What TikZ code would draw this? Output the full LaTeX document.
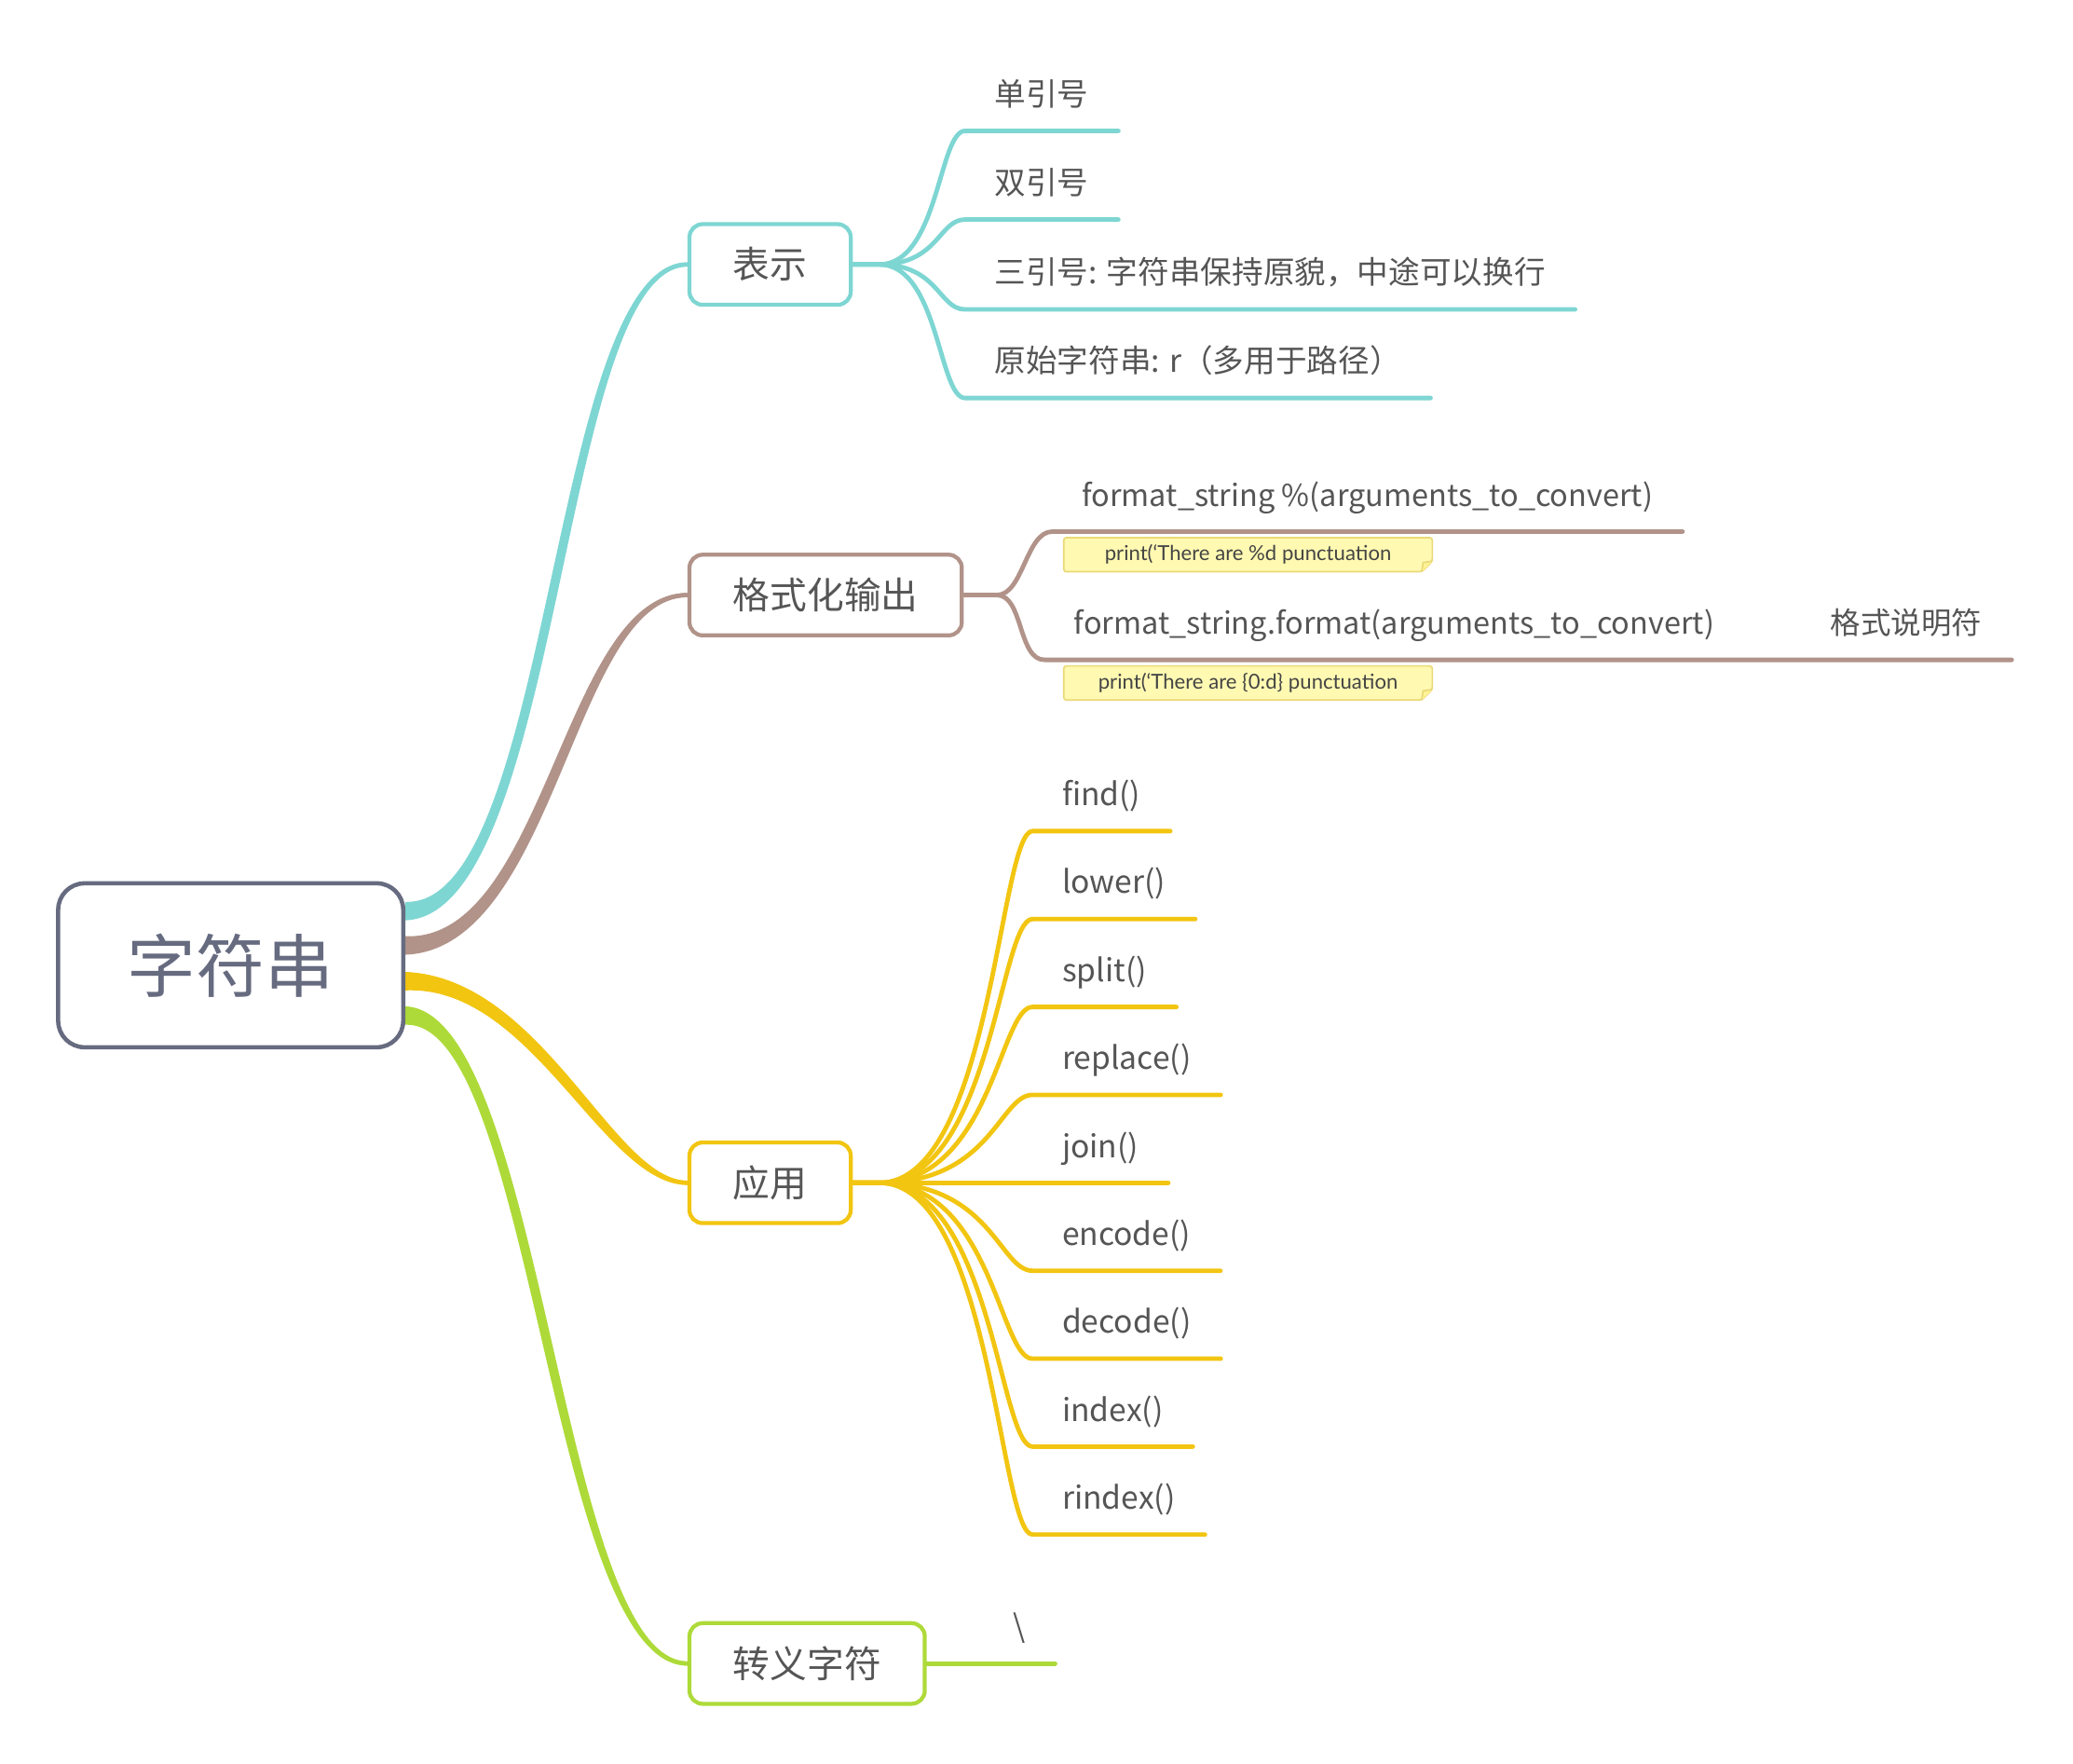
\documentclass[tikz,border=0pt]{standalone}
\usepackage{fontspec}
\setmainfont{Noto Sans CJK SC}
\newfontfamily\memofont{Lato}
\usetikzlibrary{calc}
\pgfdeclarelayer{bg}
\pgfsetlayers{bg,main}
\definecolor{rootc}{RGB}{102,107,128}
\definecolor{tealc}{RGB}{126,214,211}
\definecolor{brownc}{RGB}{177,147,137}
\definecolor{yellowc}{RGB}{242,197,17}
\definecolor{greenc}{RGB}{174,218,57}
\definecolor{txt}{RGB}{85,85,85}
\definecolor{notefill}{RGB}{255,249,178}
\definecolor{notefold}{RGB}{255,243,150}
\definecolor{noteline}{RGB}{234,217,118}
\tikzset{
  rootbox/.style={draw=rootc, line width=1.6pt, rounded corners=10pt, fill=white,
    text=rootc, font=\fontsize{26pt}{26pt}\selectfont,
    minimum width=130.5pt, minimum height=62pt},
  topic/.style={draw=#1, line width=1.5pt, rounded corners=5pt, fill=white,
    text=txt, font=\fontsize{14pt}{14pt}\selectfont,
    minimum height=30.5pt, inner xsep=16.5pt, anchor=west},
  leaf/.style={anchor=south west, inner xsep=11pt, inner ysep=7.6pt,
    text height=10pt, text depth=1.8pt, text=txt,
    font=\fontsize{11.85pt}{12pt}\selectfont},
  longleaf/.style={leaf, font=\fontsize{11.45pt}{12pt}\selectfont},
  memo/.style={minimum width=139pt, minimum height=12.5pt, inner sep=0pt,
    text=txt!80!black, font=\memofont\fontsize{7.8pt}{7.8pt}\selectfont},
  link/.style={draw=#1, line width=1.7pt, line cap=round, line join=round},
}
% 粗细渐变的主干
\newcommand{\tapered}[6]{%
  \fill[#1] ([yshift=#2+3.5pt]root.east) .. controls +({#4-(#6)},4.4) and +({-(#5)-(#6)},0) .. ([yshift=0.8pt]#3.west)
    -- ([yshift=-0.8pt]#3.west) .. controls +({-(#5)+(#6)},0) and +({#4+(#6)},-4.4) .. ([yshift=#2-3.5pt]root.east) -- cycle;
  \draw[#1, line width=1.6pt] ([yshift=#2]root.east) .. controls +(#4,0) and +(-#5,0) .. (#3.west);
}
\begin{document}
\begin{tikzpicture}[x=0.5pt,y=-0.5pt]
\useasboundingbox (0,0) rectangle (1568,1334);
% 中心
\node[rootbox] (root) at (174.5,730) {字符串};
% 一级
\node[topic=tealc] (rep) at (520,200) {表示};
\node[topic=brownc] (fmt) at (520,450) {格式化输出};
\node[topic=yellowc] (app) at (520,894.5) {应用};
\node[topic=greenc] (esc) at (520,1258) {转义字符};
% 表示
\node[leaf] (r1) at (730,99) {单引号};
\node[leaf] (r2) at (730,166) {双引号};
\node[leaf] (r3) at (730,234) {三引号: 字符串保持原貌，中途可以换行};
\node[leaf] (r4) at (730,301) {原始字符串: r（多用于路径）};
% 格式化输出
\node[longleaf] (f1) at (796,402) {format\_string \%(arguments\_to\_convert)};
\node[longleaf] (f2) at (790,499) {format\_string.format(arguments\_to\_convert)\hspace{44pt}格式说明符};
\node[memo] (n1) at (944,419.5) {print(‘There are \%d punctuation};
\node[memo] (n2) at (944,516.5) {print(‘There are \{0:d\} punctuation};
% 应用
\foreach \t [count=\i from 0] in {find(),lower(),split(),replace(),join(),encode(),decode(),index(),rindex()}
  \node[leaf] (a\i) at (781,{628.5+66.5*\i}) {\t};
% 转义字符
\node[leaf] (bs) at (744,1258) {\textbackslash};

\begin{pgfonlayer}{bg}
\tapered{tealc}{20.5pt}{rep}{115}{100}{4}
\tapered{brownc}{7.5pt}{fmt}{110}{90}{4}
\tapered{yellowc}{-6pt}{app}{100}{60}{-4}
\tapered{greenc}{-19pt}{esc}{100}{100}{-4}
\foreach \i in {1,...,4}
  \draw[link=tealc] (rep.east) -- ++(20,0) .. controls +(45,0) and +(-20,0) .. (r\i.south west) -- (r\i.south east);
\foreach \i in {1,2}
  \draw[link=brownc] (fmt.east) -- ++(25,0) .. controls +(20,0) and +(-20,0) .. (f\i.south west) -- (f\i.south east);
\foreach \i in {0,...,8}
  \draw[link=yellowc] (app.east) -- ++(20,0) .. controls +(85,0) and +(-25,0) .. (a\i.south west) -- (a\i.south east);
\draw[link=greenc] (esc.east) -- (bs.south west) -- (bs.south east);
% 便签
\foreach \n in {n1,n2} {
  \draw[noteline, line width=0.6pt, fill=notefill, rounded corners=1pt] (\n.north west) -- (\n.north east)
    -- ([yshift=4pt]\n.south east) -- ([xshift=-4pt]\n.south east) -- (\n.south west) -- cycle;
  \draw[noteline, line width=0.6pt, fill=notefold] ([yshift=4pt]\n.south east)
    -- ([xshift=-3.5pt,yshift=3.5pt]\n.south east) -- ([xshift=-4pt]\n.south east);
}
\end{pgfonlayer}
\end{tikzpicture}
\end{document}
